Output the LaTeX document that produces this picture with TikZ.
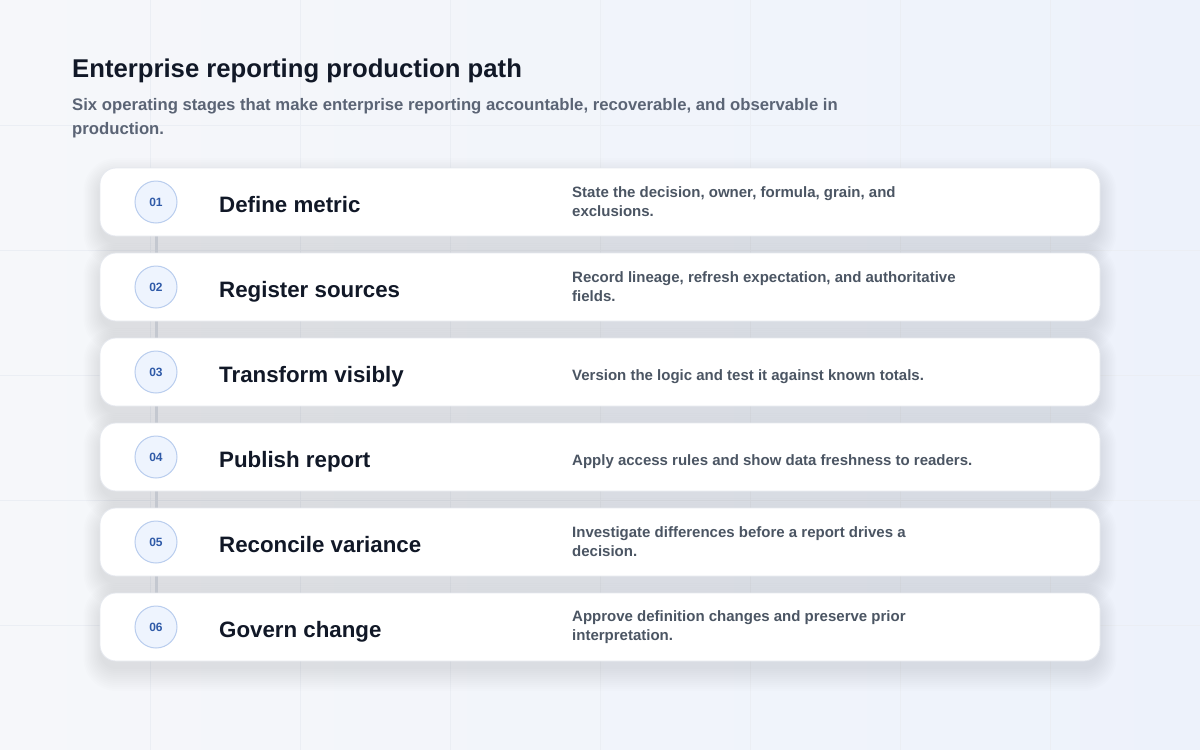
\documentclass[tikz,border=0pt]{standalone}
\usepackage{fontspec}
\setmainfont{Liberation Sans}
\pgfdeclarelayer{shadowlayer}
\pgfdeclarelayer{connlayer}
\pgfsetlayers{shadowlayer,connlayer,main}
\definecolor{bgA}{HTML}{F6F7FA}
\definecolor{bgB}{HTML}{EDF2FB}
\definecolor{gridc}{HTML}{EBEEF4}
\definecolor{titlec}{HTML}{111827}
\definecolor{subc}{HTML}{5B6475}
\definecolor{descc}{HTML}{4B5563}
\definecolor{cardline}{HTML}{E6E9EF}
\definecolor{circfill}{HTML}{EEF4FE}
\definecolor{circline}{HTML}{B9CDEE}
\definecolor{numc}{HTML}{2F5AA8}
\definecolor{connc}{HTML}{C4C8D0}
\definecolor{shadowc}{HTML}{1E2A4A}
\begin{document}
\begin{tikzpicture}[x=1pt,y=-1pt,
  card/.style={draw=cardline, line width=0.8pt, fill=white, rounded corners=16pt,
    minimum width=1000pt, minimum height=68pt, inner sep=0pt},
  badge/.style={circle, draw=circline, line width=1pt, fill=circfill, minimum size=42pt,
    inner sep=0pt, font=\fontsize{12}{14}\selectfont\bfseries, text=numc},
  steptitle/.style={anchor=base west, inner sep=0pt, text=titlec,
    font=\fontsize{22.3}{26}\selectfont\bfseries},
  stepdesc/.style={anchor=west, inner sep=0pt, text=descc, align=left,
    font=\fontsize{15}{19}\selectfont\bfseries},
  conn/.style={draw=connc, line width=3pt}
]
\useasboundingbox (0,0) rectangle (1200,750);
\begin{pgfonlayer}{shadowlayer}
  \shade[left color=bgA, right color=bgB] (0,0) rectangle (1200,750);
  \foreach \gx in {150,300,...,1050} \draw[gridc, line width=0.8pt] (\gx,0) -- (\gx,750);
  \foreach \gy in {125,250,...,625} \draw[gridc, line width=0.8pt] (0,\gy) -- (1200,\gy);
  \begin{scope}
    \clip (60,150) rectangle (1140,690);
    \foreach \ct in {168,253,338,423,508,593}{
      \foreach \k in {0,...,11}{
        \fill[shadowc, opacity=0.006, rounded corners={16pt+1.5pt*\k}]
          ({100-1.5*\k},{\ct+10-1.8*\k}) rectangle ({1100+1.5*\k},{\ct+68+8+2*\k});
      }
    }
  \end{scope}
\end{pgfonlayer}

\node[anchor=base west, inner sep=0pt, text=titlec, font=\fontsize{25.7}{30}\selectfont\bfseries]
  (title) at (72,77) {Enterprise reporting production path};
\node[anchor=base west, inner sep=0pt, text=subc, font=\fontsize{16.7}{24}\selectfont\bfseries]
  (sub1) at (72,110) {Six operating stages that make enterprise reporting accountable, recoverable, and observable in};
\node[anchor=base west, inner sep=0pt, text=subc, font=\fontsize{16.7}{24}\selectfont\bfseries]
  (sub2) at (72,134) {production.};

\node[card] (card1) at (600,202) {};
\node[card] (card2) at (600,287) {};
\node[card] (card3) at (600,372) {};
\node[card] (card4) at (600,457) {};
\node[card] (card5) at (600,542) {};
\node[card] (card6) at (600,627) {};

\node[badge] (b1) at (156,202) {01};
\node[badge] (b2) at (156,287) {02};
\node[badge] (b3) at (156,372) {03};
\node[badge] (b4) at (156,457) {04};
\node[badge] (b5) at (156,542) {05};
\node[badge] (b6) at (156,627) {06};

\node[steptitle] (t1) at (219,212) {Define metric};
\node[steptitle] (t2) at (219,297) {Register sources};
\node[steptitle] (t3) at (219,382) {Transform visibly};
\node[steptitle] (t4) at (219,467) {Publish report};
\node[steptitle] (t5) at (219,552) {Reconcile variance};
\node[steptitle] (t6) at (219,637) {Govern change};

\node[stepdesc] (d1) at (572,202) {State the decision, owner, formula, grain, and\\exclusions.};
\node[stepdesc] (d2) at (572,287) {Record lineage, refresh expectation, and authoritative\\fields.};
\node[stepdesc] (d3) at (572,377) {Version the logic and test it against known totals.};
\node[stepdesc] (d4) at (572,462) {Apply access rules and show data freshness to readers.};
\node[stepdesc] (d5) at (572,542) {Investigate differences before a report drives a\\decision.};
\node[stepdesc] (d6) at (572,627) {Approve definition changes and preserve prior\\interpretation.};

\begin{pgfonlayer}{connlayer}
  \draw[conn] (b1.south) -- (b2.north);
  \draw[conn] (b2.south) -- (b3.north);
  \draw[conn] (b3.south) -- (b4.north);
  \draw[conn] (b4.south) -- (b5.north);
  \draw[conn] (b5.south) -- (b6.north);
\end{pgfonlayer}
\end{tikzpicture}
\end{document}
